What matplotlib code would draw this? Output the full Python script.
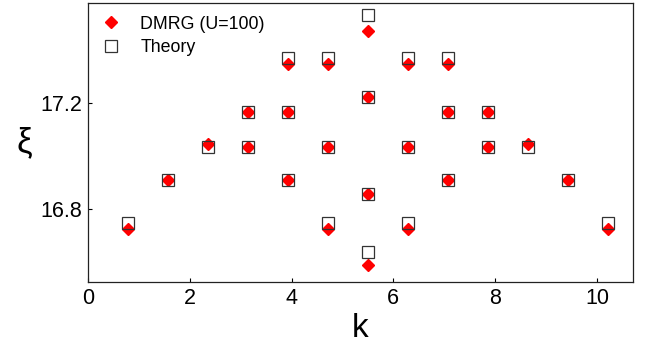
import matplotlib
matplotlib.use("Agg")
import matplotlib.pyplot as plt

plt.rcParams['font.family'] = ['Liberation Sans', 'DejaVu Sans']

# Theory (squares)
theory_k = [0.785, 1.571, 2.356,
            3.142, 3.142,
            3.927, 3.927, 3.927,
            4.712, 4.712, 4.712,
            5.498, 5.498, 5.498, 5.498,
            6.283, 6.283, 6.283,
            7.069, 7.069, 7.069,
            7.854, 7.854,
            8.639, 9.425, 10.210]
theory_xi = [16.746, 16.908, 17.034,
             17.034, 17.167,
             16.908, 17.167, 17.373,
             16.746, 17.034, 17.373,
             16.637, 16.858, 17.225, 17.534,
             16.746, 17.034, 17.373,
             16.908, 17.167, 17.373,
             17.034, 17.167,
             17.034, 16.908, 16.746]

# DMRG (U=100) (diamonds)
dmrg_k = theory_k
dmrg_xi = [16.723, 16.908, 17.046,
           17.034, 17.167,
           16.908, 17.167, 17.350,
           16.723, 17.034, 17.350,
           16.587, 16.858, 17.225, 17.474,
           16.723, 17.034, 17.350,
           16.908, 17.167, 17.350,
           17.034, 17.167,
           17.046, 16.908, 16.723]

xticks = [0, 2, 4, 6, 8, 10]
yticks = [16.8, 17.2]

fig = plt.figure(figsize=(6.57, 3.5), dpi=100)
ax = fig.add_axes([0.134, 0.194, 0.8295, 0.797])

ax.plot(dmrg_k, dmrg_xi, linestyle='none', marker='D', markersize=6.2,
        color='#ff0000', markeredgecolor='#ff0000', label='DMRG (U=100)', zorder=2)
ax.plot(theory_k, theory_xi, linestyle='none', marker='s', markersize=8.6,
        markerfacecolor='none', markeredgecolor='#333333', markeredgewidth=0.9,
        label='Theory', zorder=3)

ax.set_xlim(0, 10.71)
ax.set_ylim(16.523, 17.579)
ax.set_xticks(xticks)
ax.set_xticklabels([str(t) for t in xticks])
ax.set_yticks(yticks)
ax.set_yticklabels(['16.8', '17.2'])
ax.tick_params(direction='in', length=3, width=0.8, labelsize=15.5, pad=4)

for s in ax.spines.values():
    s.set_linewidth(0.9)
    s.set_color('#222222')

ax.set_xlabel('k', fontsize=24, labelpad=3)
ax.set_ylabel('ξ', fontsize=25, rotation=0, labelpad=12, va='center')

ax.legend(loc='upper left', frameon=False, fontsize=12.8, handletextpad=1.05,
          borderaxespad=0.3, labelspacing=0.38, handlelength=1.2,
          bbox_to_anchor=(0.0, 1.0))

fig.savefig('out.png', dpi=100)
